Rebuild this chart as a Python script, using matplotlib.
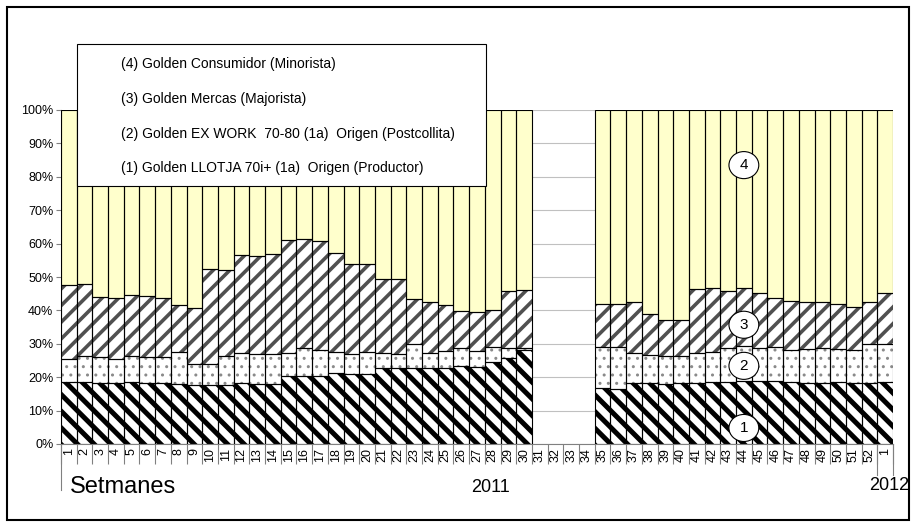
import matplotlib.pyplot as plt
import numpy as np
from matplotlib.patches import Rectangle, Patch, Ellipse
from matplotlib.ticker import PercentFormatter

plt.rcParams['font.family'] = ['Liberation Sans', 'DejaVu Sans']

nan = np.nan

# week labels: 2011 weeks 1-52, then week 1 of 2012
weeks = [str(i) for i in range(1, 53)] + ['1']

# share of each price level (%), weeks 31-34 have no data
s1 = [18.7, 18.7, 18.4, 18.4, 18.7, 18.4, 18.4, 18.0, 17.7, 17.7,
      17.7, 18.4, 18.0, 18.0, 20.4, 20.4, 20.4, 21.2, 20.9, 20.9,
      22.7, 22.7, 22.7, 22.7, 22.7, 23.5, 23.2, 24.7, 25.7, 28.0,
      nan, nan, nan, nan,
      16.9, 16.6, 18.4, 18.4, 18.1, 18.4, 18.4, 18.7, 18.7, 19.0,
      19.0, 19.0, 18.7, 18.4, 18.4, 18.7, 18.4, 18.4, 18.7]
s2 = [6.8, 7.5, 7.5, 7.1, 7.5, 7.5, 7.5, 9.4, 6.2, 6.2,
      8.5, 8.7, 8.8, 8.8, 6.7, 8.3, 7.6, 6.2, 5.9, 6.5,
      4.4, 4.1, 7.2, 4.4, 5.0, 5.2, 4.5, 4.3, 3.0, 0.6,
      nan, nan, nan, nan,
      12.0, 12.4, 8.7, 8.1, 8.1, 8.0, 8.7, 8.7, 10.0, 10.3,
      9.7, 10.0, 9.3, 9.9, 10.3, 9.7, 9.6, 11.5, 11.2]
s3 = [22.2, 21.7, 18.1, 18.2, 18.5, 18.3, 17.8, 14.1, 16.8, 28.5,
      26.0, 29.6, 29.4, 30.2, 33.9, 32.8, 32.8, 29.7, 27.0, 26.5,
      22.4, 22.7, 13.5, 15.4, 13.8, 11.1, 11.8, 11.2, 17.2, 17.4,
      nan, nan, nan, nan,
      13.0, 12.9, 15.4, 12.4, 11.0, 10.8, 19.3, 19.3, 17.0, 17.4,
      16.5, 14.7, 14.8, 14.2, 13.8, 13.5, 13.0, 12.6, 15.3]
s4 = [52.3, 52.1, 56.0, 56.3, 55.3, 55.8, 56.3, 58.5, 59.3, 47.6,
      47.8, 43.3, 43.8, 43.0, 39.0, 38.5, 39.2, 42.9, 46.2, 46.1,
      50.5, 50.5, 56.6, 57.5, 58.5, 60.2, 60.5, 59.8, 54.1, 54.0,
      nan, nan, nan, nan,
      58.1, 58.1, 57.5, 61.1, 62.8, 62.8, 53.6, 53.3, 54.3, 53.3,
      54.8, 56.3, 57.2, 57.5, 57.5, 58.1, 59.0, 57.5, 54.8]

labels = ['(1) Golden LLOTJA 70i+ (1a)  Origen (Productor)',
          '(2) Golden EX WORK  70-80 (1a)  Origen (Postcollita)',
          '(3) Golden Mercas (Majorista)',
          '(4) Golden Consumidor (Minorista)']

W, H = 911, 523
fig = plt.figure(figsize=(W / 100, H / 100), dpi=100)
ax = fig.add_axes([61 / W, 79 / H, 832 / W, 334 / H])

x = np.arange(len(weeks))
data = np.array([s1, s2, s3, s4])
ok = ~np.isnan(data.sum(axis=0))
pct = data[:, ok] / data[:, ok].sum(axis=0) * 100
xs = x[ok]

styles = [('\\\\', 'black', 'white', 3.6),
          ('..', '#8a8a8a', 'white', 1.0),
          ('//', '#505050', 'white', 2.6),
          ('', '#FFFFCC', '#FFFFCC', 1.0)]

bottom = np.zeros(len(xs))
for vals, (hatch, hc, fc, hlw) in zip(pct, styles):
    with plt.rc_context({'hatch.linewidth': hlw}):
        ax.bar(xs, vals, bottom=bottom, width=1.0, color=fc, edgecolor=hc,
               linewidth=0, hatch=hatch, zorder=2)
    ax.bar(xs, vals, bottom=bottom, width=1.0, fill=False, edgecolor='black',
           linewidth=0.8, zorder=3)
    bottom = bottom + vals

ax.set_xlim(-0.5, len(weeks) - 0.5)
ax.set_ylim(0, 100)
ax.set_yticks(range(0, 101, 10))
ax.yaxis.set_major_formatter(PercentFormatter(decimals=0))
ax.yaxis.grid(True, color='#c0c0c0', linewidth=0.8)
ax.set_axisbelow(True)

for s in ['top', 'right']:
    ax.spines[s].set_visible(False)
for s in ['left', 'bottom']:
    ax.spines[s].set_color('#808080')
    ax.spines[s].set_linewidth(0.8)

ax.tick_params(axis='y', length=3.5, color='#808080', labelsize=9, pad=2)
ax.set_xticks(np.arange(-0.5, len(weeks), 1))
ax.set_xticks(x, labels=weeks, minor=True)
ax.tick_params(axis='x', which='major', length=14.5, color='#808080', width=0.8,
               labelbottom=False)
ax.tick_params(axis='x', which='minor', length=0, labelsize=9, labelrotation=90, pad=3)

# year group separators
tr = ax.get_xaxis_transform()
ax.plot([-0.5, -0.5], [0, -0.138], transform=tr, color='#808080', lw=0.8, clip_on=False)
for xb in [51.5, 52.5]:
    ax.plot([xb, xb], [0, -0.093], transform=tr, color='#808080', lw=0.8, clip_on=False)

# numbered markers on week 44
for lab, yv in [('4', 83.5), ('3', 35.7), ('2', 23.4), ('1', 4.8)]:
    ax.add_patch(Ellipse((43, yv), 1.9, 8.1, facecolor='white', edgecolor='black',
                         lw=0.8, zorder=6))
    ax.text(43, yv, lab, ha='center', va='center', fontsize=11, zorder=7)

fig.text(70 / W, 1 - 487 / H, 'Setmanes', fontsize=17, ha='left', va='center')
fig.text(490 / W, 1 - 487 / H, '2011', fontsize=13, ha='center', va='center')
fig.text(889 / W, 1 - 486 / H, '2012', fontsize=13, ha='center', va='center')

# legend box
fig.add_artist(Rectangle((77 / W, 1 - 186 / H), 409 / W, 142 / H, transform=fig.transFigure,
                         facecolor='white', edgecolor='black', lw=0.8, zorder=4))
handles = [Patch(facecolor='none', edgecolor='none') for _ in labels]
fig.legend(handles[::-1], labels[::-1], loc='upper left',
           bbox_to_anchor=(77 / W, 1 - 50.5 / H), bbox_transform=fig.transFigure,
           borderaxespad=0, frameon=False, fontsize=10, handlelength=2,
           handletextpad=0.7, labelspacing=1.48, borderpad=0.5)

# outer chart frame
fig.add_artist(Rectangle((7 / W, 3 / H), 902 / W, 513 / H, transform=fig.transFigure,
                         fill=False, edgecolor='black', lw=1.5, zorder=10))

fig.savefig('out.png', dpi=100)
